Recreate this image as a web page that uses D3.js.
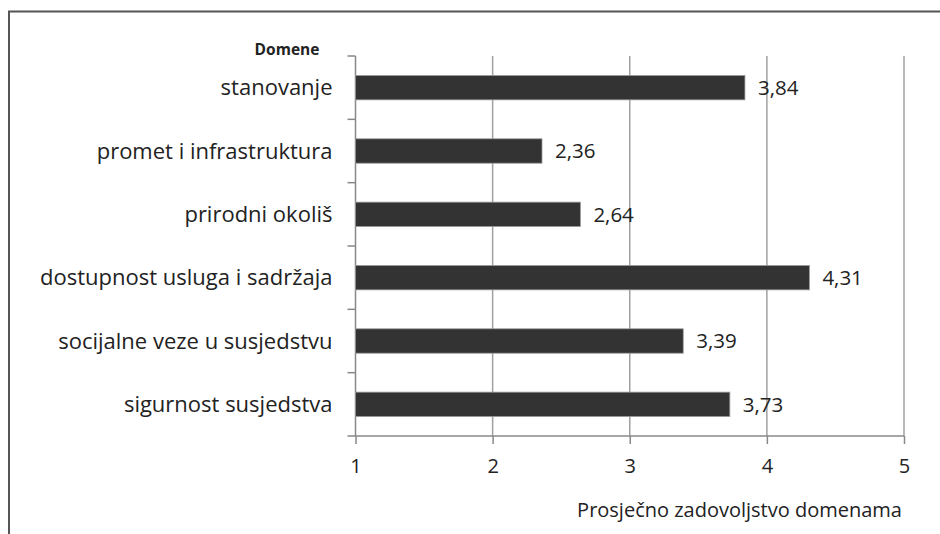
<!DOCTYPE html>
<html>
<head>
<meta charset="utf-8">
<script src="https://d3js.org/d3.v7.min.js"></script>
<style>
  body { margin: 0; background: #fff; }
  text { font-family: "Open Sans", sans-serif; fill: #222; }
</style>
</head>
<body>
<div id="chart"></div>
<script>

// domains (top to bottom) and their mean satisfaction
var domains = ['stanovanje', 'promet i infrastruktura', 'prirodni okoliš',
               'dostupnost usluga i sadržaja', 'socijalne veze u susjedstvu', 'sigurnost susjedstva'];
var scores = [3.84, 2.36, 2.64, 4.31, 3.39, 3.73];
var xTicks = [1, 2, 3, 4, 5];

var width = 940, height = 534;
var margin = {top: 56, right: 36, bottom: 98, left: 355.5};

var svg = d3.select("#chart")
  .append("svg")
    .attr("width", width)
    .attr("height", height);

// outer frame (left and top edges visible only)
svg.append("path")
  .attr("d", "M9,534 V11.5 H940")
  .attr("fill", "none")
  .attr("stroke", "#555")
  .attr("stroke-width", 2);

var x = d3.scaleLinear()
  .domain([1, 5])
  .range([margin.left, width - margin.right]);

var y = d3.scaleBand()
  .domain(domains)
  .range([margin.top, height - margin.bottom])
  .paddingInner(0.615)
  .paddingOuter(0.3075);

var y0 = margin.top, y1 = height - margin.bottom;

// vertical grid lines
svg.append("g")
  .selectAll("line")
  .data(xTicks.slice(1))
  .enter()
  .append("line")
    .attr("x1", function(d) { return x(d); })
    .attr("x2", function(d) { return x(d); })
    .attr("y1", y0)
    .attr("y2", y1)
    .attr("stroke", "#a0a0a0")
    .attr("stroke-width", 1.5);

// x axis
var xAxis = svg.append("g")
  .attr("transform", "translate(0," + y1 + ")")
  .call(d3.axisBottom(x).tickValues(xTicks).tickSize(8).tickSizeOuter(0).tickPadding(15)
        .tickFormat(function(d) { return d; }));
xAxis.select(".domain").remove();
xAxis.selectAll(".tick line").attr("stroke", "#888").attr("stroke-width", 1.5);
xAxis.selectAll(".tick text")
  .style("font-size", "20px")
  .style("font-family", "'Open Sans', sans-serif")
  .attr("fill", "#222");
xAxis.append("line")
  .attr("x1", margin.left - 8)
  .attr("x2", x(5))
  .attr("stroke", "#888")
  .attr("stroke-width", 1.5);

// y axis line and boundary ticks
var step = y.step();
var bounds = d3.range(domains.length).map(function(i) { return y0 + i * step; });
svg.append("line")
  .attr("x1", margin.left).attr("x2", margin.left)
  .attr("y1", y0).attr("y2", y1)
  .attr("stroke", "#888").attr("stroke-width", 1.5);
svg.append("g")
  .selectAll("line")
  .data(bounds)
  .enter()
  .append("line")
    .attr("x1", margin.left - 8)
    .attr("x2", margin.left)
    .attr("y1", function(d) { return d; })
    .attr("y2", function(d) { return d; })
    .attr("stroke", "#888")
    .attr("stroke-width", 1.5);

// category labels
svg.append("g")
  .selectAll("text")
  .data(domains)
  .enter()
  .append("text")
    .attr("x", margin.left - 23)
    .attr("y", function(d) { return y(d) + y.bandwidth() / 2; })
    .attr("dy", "0.35em")
    .attr("text-anchor", "end")
    .style("font-size", "22px")
    .text(function(d) { return d; });

// bars
svg.append("g")
  .selectAll("rect")
  .data(scores)
  .enter()
  .append("rect")
    .attr("x", x(1))
    .attr("y", function(d, i) { return y(domains[i]); })
    .attr("width", function(d) { return x(d) - x(1); })
    .attr("height", y.bandwidth())
    .attr("fill", "#333")
    .attr("stroke", "#999")
    .attr("stroke-width", 0.8);

// value labels
svg.append("g")
  .selectAll("text")
  .data(scores)
  .enter()
  .append("text")
    .attr("x", function(d) { return x(d) + 13; })
    .attr("y", function(d, i) { return y(domains[i]) + y.bandwidth() / 2; })
    .attr("dy", "0.35em")
    .style("font-size", "20.5px")
    .text(function(d) { return d.toFixed(2).replace(".", ","); });

// y title
svg.append("text")
  .attr("x", 287)
  .attr("y", 55)
  .attr("text-anchor", "middle")
  .style("font-size", "15.5px")
  .style("font-weight", "bold")
  .text("Domene");

// x title
svg.append("text")
  .attr("x", x(5) - 2)
  .attr("y", 517)
  .attr("text-anchor", "end")
  .style("font-size", "20px")
  .text("Prosječno zadovoljstvo domenama");

</script>
</body>
</html>
